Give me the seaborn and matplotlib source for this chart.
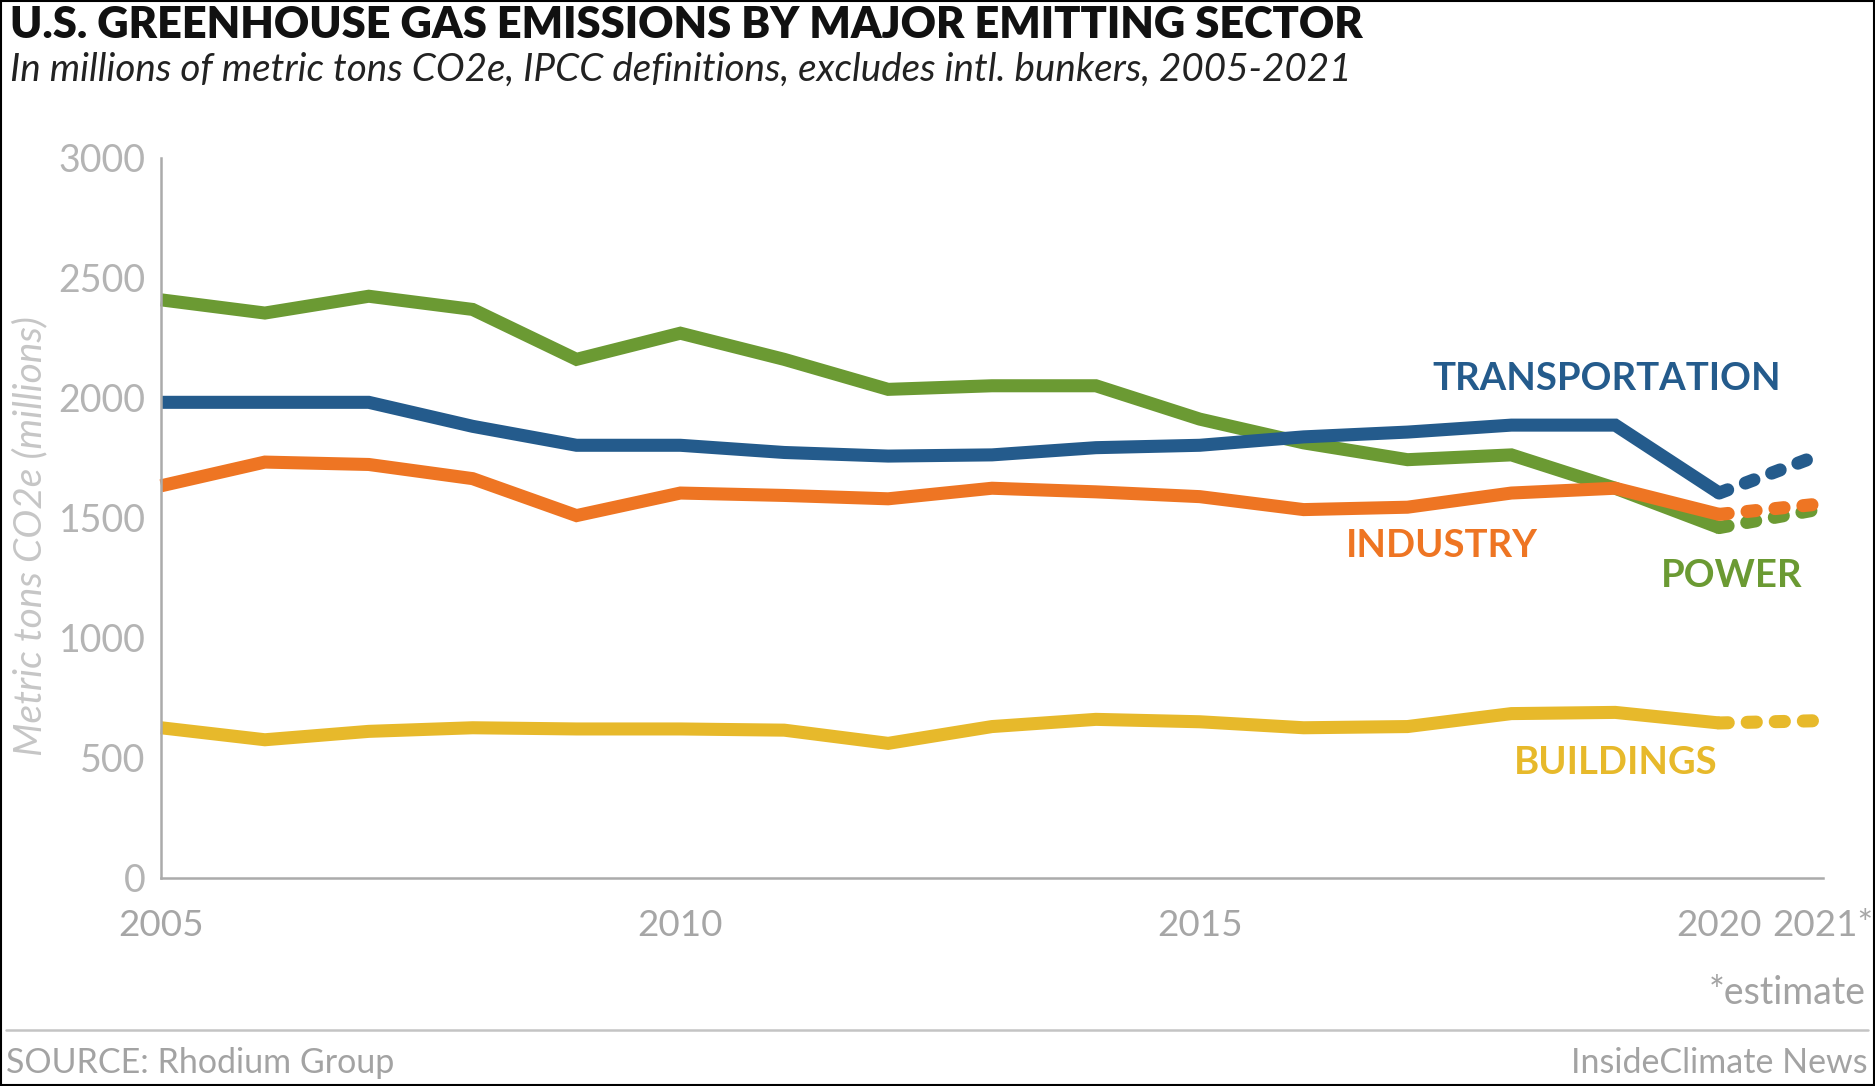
import matplotlib
matplotlib.use("Agg")
import matplotlib.pyplot as plt
from matplotlib.patches import Rectangle
from matplotlib.lines import Line2D
import numpy as np
import pandas as pd
import seaborn as sns

# U.S. greenhouse gas emissions by sector, million metric tons CO2e
years = [2005, 2006, 2007, 2008, 2009, 2010, 2011, 2012, 2013,
         2014, 2015, 2016, 2017, 2018, 2019, 2020, 2021]
transportation = [1982, 1982, 1982, 1882, 1803, 1803, 1773, 1758, 1763,
                  1793, 1803, 1838, 1858, 1887, 1887, 1604, 1768]
power = [2409, 2354, 2424, 2369, 2161, 2270, 2161, 2036, 2051,
         2051, 1912, 1813, 1743, 1763, 1624, 1460, 1540]
industry = [1634, 1733, 1723, 1664, 1510, 1604, 1594, 1580, 1624,
            1609, 1589, 1535, 1545, 1604, 1624, 1515, 1560]
buildings = [626, 576, 611, 626, 621, 621, 616, 561, 631,
             661, 651, 626, 631, 685, 690, 646, 656]
estimate_years = [2020, 2021]

sectors = ["BUILDINGS", "POWER", "INDUSTRY", "TRANSPORTATION"]
sector_values = {"BUILDINGS": buildings, "POWER": power,
                 "INDUSTRY": industry, "TRANSPORTATION": transportation}
palette = {"TRANSPORTATION": "#245b8c", "INDUSTRY": "#ee7523",
           "POWER": "#6b9a33", "BUILDINGS": "#e7b92b"}

x_tick_labels = ["2005", "", "", "", "", "2010", "", "", "", "",
                 "2015", "", "", "", "", "2020", "2021*"]
y_ticks = [0, 500, 1000, 1500, 2000, 2500, 3000]

rows = []
for s in sectors:
    for yr, v in zip(years, sector_values[s]):
        rows.append({"year": yr, "value": v, "sector": s})
df = pd.DataFrame(rows)
observed = df[df["year"] <= 2020]
estimated = df[df["year"].isin(estimate_years)]

sns.set_theme(style="white")
plt.rcParams["font.family"] = ["Lato", "DejaVu Sans"]

W, H = 1875, 1086
fig = plt.figure(figsize=(W / 100, H / 100), dpi=100)
ax = fig.add_axes([161 / W, (H - 878) / H, (1823 - 161) / W, (878 - 158) / H])

lw = 9.4
sns.lineplot(data=observed, x="year", y="value", hue="sector",
             hue_order=sectors, palette=palette, linewidth=lw,
             legend=False, ax=ax, solid_joinstyle="miter",
             solid_capstyle="butt")
n_solid = len(ax.lines)
sns.lineplot(data=estimated, x="year", y="value", hue="sector",
             hue_order=sectors, palette=palette, linewidth=lw,
             legend=False, ax=ax)
for line in ax.lines[n_solid:]:
    line.set_dashes((0.7, 1.45))
    line.set_dash_capstyle("round")
for line in ax.lines:
    line.set_clip_on(False)

ax.set_xlim(2005, 2021)
ax.set_ylim(0, 3000)
ax.set_xticks(years)
ax.set_xticklabels(x_tick_labels)
ax.set_yticks(y_ticks)
ax.set_yticklabels([str(t) for t in y_ticks])
ax.set_xlabel("")
ax.set_ylabel("")

axis_grey = "#ababab"
for side in ["top", "right"]:
    ax.spines[side].set_visible(False)
for side in ["left", "bottom"]:
    ax.spines[side].set_color(axis_grey)
    ax.spines[side].set_linewidth(1.8)
ax.tick_params(axis="x", direction="out", length=9.5, width=1.5,
               color=axis_grey, pad=13, labelsize=26.5, labelcolor="#a6a6a6")
ax.tick_params(axis="y", length=0, pad=11, labelsize=27,
               labelcolor="#b4b4b4")
ax.grid(False)

# Direct labels for each sector
label_pos = {"TRANSPORTATION": (2018.92, 2081),
             "INDUSTRY": (2017.33, 1384),
             "POWER": (2020.12, 1259),
             "BUILDINGS": (2019.0, 478)}
for s, (lx, ly) in label_pos.items():
    ax.text(lx, ly, s, color=palette[s], fontsize=27.5, fontweight="bold",
            ha="center", va="center")

fig.text(30 / W, 1 - 536 / H, "Metric tons CO2e (millions)", rotation=90,
         ha="center", va="center", fontsize=28, style="italic",
         color="#c6c6c6")

fig.text(10 / W, 1 - 25 / H,
         "U.S. GREENHOUSE GAS EMISSIONS BY MAJOR EMITTING SECTOR",
         ha="left", va="center", fontsize=31.2, fontweight="heavy",
         color="#111111")
fig.text(10 / W, 1 - 70 / H,
         "In millions of metric tons CO2e, IPCC definitions, excludes intl. bunkers, 2005-2021",
         ha="left", va="center", fontsize=27.8, style="italic",
         color="#222222")

fig.text(1866 / W, 1 - 993 / H, "*estimate", ha="right", va="center",
         fontsize=27, color="#a3a3a3")
fig.add_artist(Line2D([6 / W, 1868 / W], [1 - 1030 / H, 1 - 1030 / H],
                      transform=fig.transFigure, color="#c4c4c4", lw=1.8))
fig.text(6 / W, 1 - 1063 / H, "SOURCE: Rhodium Group", ha="left",
         va="center", fontsize=24.5, color="#a3a3a3")
fig.text(1868 / W, 1 - 1063 / H, "InsideClimate News", ha="right",
         va="center", fontsize=24.5, color="#a3a3a3")

fig.add_artist(Rectangle((0.0005, 0.0005), 0.999, 0.999,
                         transform=fig.transFigure, fill=False,
                         edgecolor="#000000", lw=1.5))

fig.savefig("out.png", dpi=100, facecolor="white")
